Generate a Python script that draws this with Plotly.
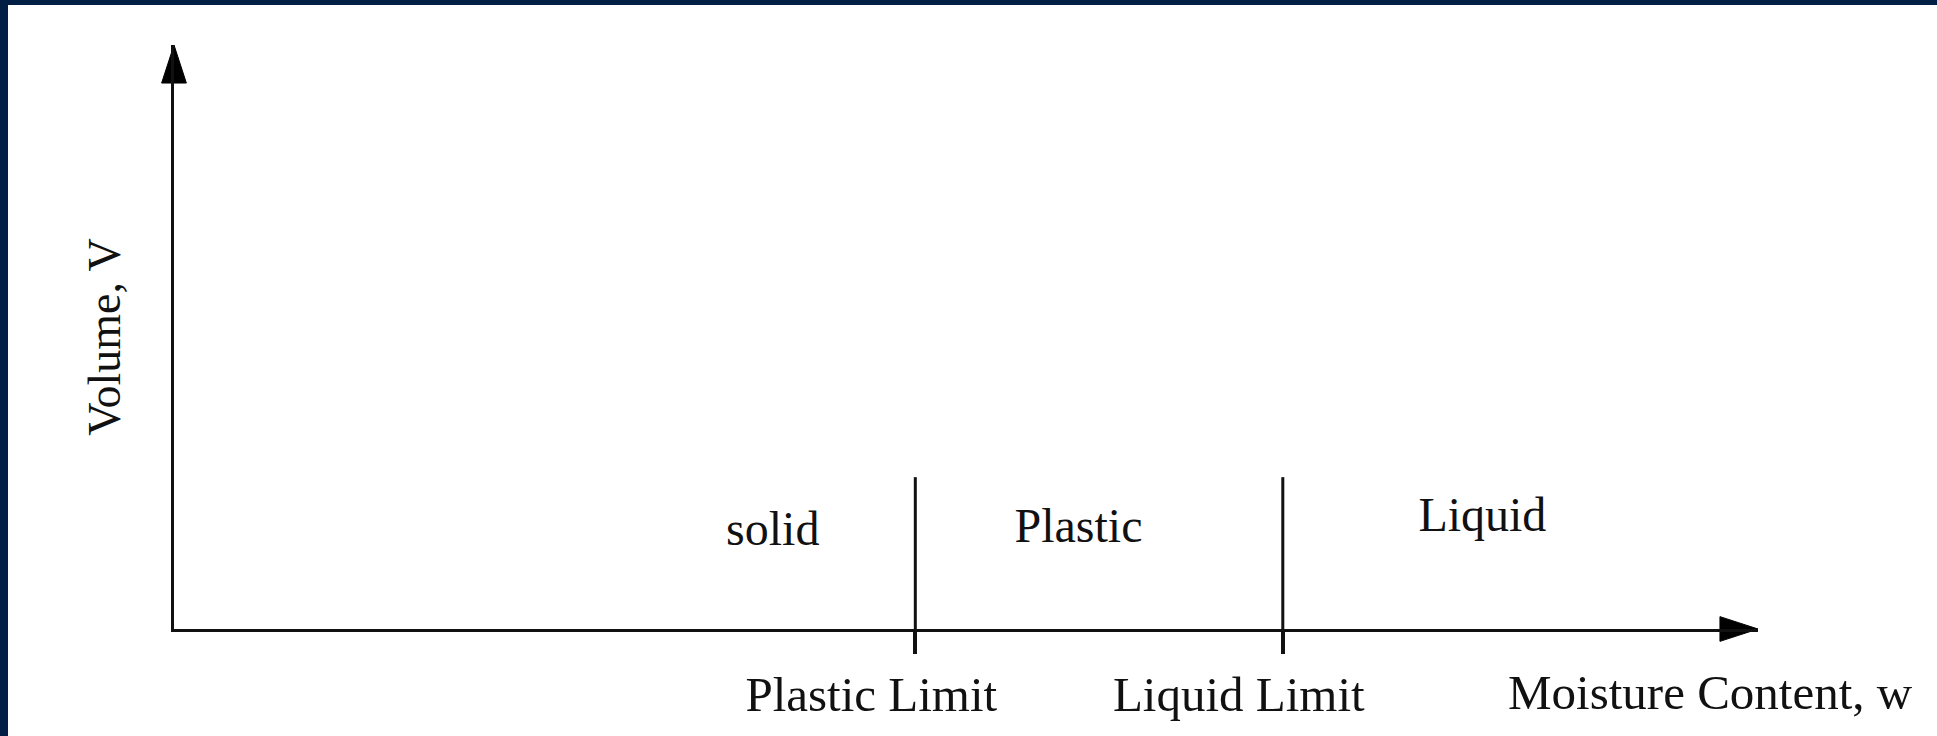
import plotly.graph_objects as go

# ---- data (schematic of consistency limits) ----
limit_names = ["Plastic Limit", "Liquid Limit"]
limit_values = [46.8, 70.0]            # moisture content at the limits
limit_line_top = 26.0                  # height of the limit lines (volume units)
state_names = ["solid", "Plastic", "Liquid"]
state_x = [37.8, 57.1, 82.6]
state_y = [16.5, 17.0, 18.8]
x_title = "Moisture Content, w"
y_title = "Volume, V"
x_max = 100
y_max = 100

W, H = 1937, 736
ML, MR, MT, MB = 174, 179, 45, 107
PW, PH = W - ML - MR, H - MT - MB
INK = "#111111"
FONT = "Liberation Serif"
NAVY = "#011e45"

def px_x(p):  # pixel -> paper
    return (p - ML) / PW

def px_y(p):
    return (H - MB - p) / PH

fig = go.Figure()

# limit lines
lx, ly = [], []
for v in limit_values:
    lx += [v, v, None]
    ly += [0, limit_line_top, None]
fig.add_trace(go.Scatter(x=lx, y=ly, mode="lines",
                         line=dict(color=INK, width=3),
                         hoverinfo="skip", showlegend=False, cliponaxis=False))

# arrow heads at the axis ends
arrow_marker = dict(symbol="arrow", size=[0, 40], angleref="previous",
                    color="#000000", opacity=1, line=dict(width=1, color="#000000"))
fig.add_trace(go.Scatter(x=[x_max * 0.97, x_max], y=[0, 0], mode="markers",
                         marker=arrow_marker, opacity=1,
                         hoverinfo="skip", showlegend=False, cliponaxis=False))
fig.add_trace(go.Scatter(x=[0, 0], y=[y_max * 0.9, y_max], mode="markers",
                         marker=arrow_marker, opacity=1,
                         hoverinfo="skip", showlegend=False, cliponaxis=False))

# state labels
fig.add_trace(go.Scatter(x=state_x, y=state_y, mode="text", text=state_names,
                         textposition="middle center",
                         textfont=dict(family=FONT, size=48, color=INK),
                         hoverinfo="skip", showlegend=False))

annotations = [
    dict(x=97.0, y=px_y(692), xref="x", yref="paper", text=x_title, showarrow=False,
         xanchor="center", yanchor="middle",
         font=dict(family=FONT, size=49, color=INK)),
]

shapes = [
    dict(type="rect", xref="paper", yref="paper",
         x0=px_x(8), x1=px_x(W + 50), y0=px_y(H + 50), y1=px_y(5),
         fillcolor="white", line=dict(width=0), layer="below"),
]

fig.update_layout(
    width=W, height=H,
    margin=dict(l=ML, r=MR, t=MT, b=MB, autoexpand=False),
    paper_bgcolor=NAVY, plot_bgcolor="white",
    showlegend=False,
    annotations=annotations, shapes=shapes,
    font=dict(family=FONT, color=INK),
    xaxis=dict(range=[0, x_max], showline=True, linewidth=3, linecolor=INK,
               showgrid=False, zeroline=False,
               tickmode="array", tickvals=limit_values, ticktext=limit_names,
               ticks="outside", ticklen=22, tickwidth=4, tickcolor=INK,
               tickfont=dict(family=FONT, size=49, color=INK),
               ticklabelshift=-44, ticklabelstandoff=-2,
               automargin=False, fixedrange=True),
    yaxis=dict(range=[0, y_max], showline=True, linewidth=3, linecolor=INK,
               showgrid=False, zeroline=False, showticklabels=False, ticks="",
               title=dict(text=y_title, font=dict(family=FONT, size=46, color=INK),
                          standoff=36),
               automargin=False, fixedrange=True),
)

fig.write_html("out.html", config={"displayModeBar": False},
               post_script="document.body.style.margin='0';document.body.style.overflow='hidden';")
